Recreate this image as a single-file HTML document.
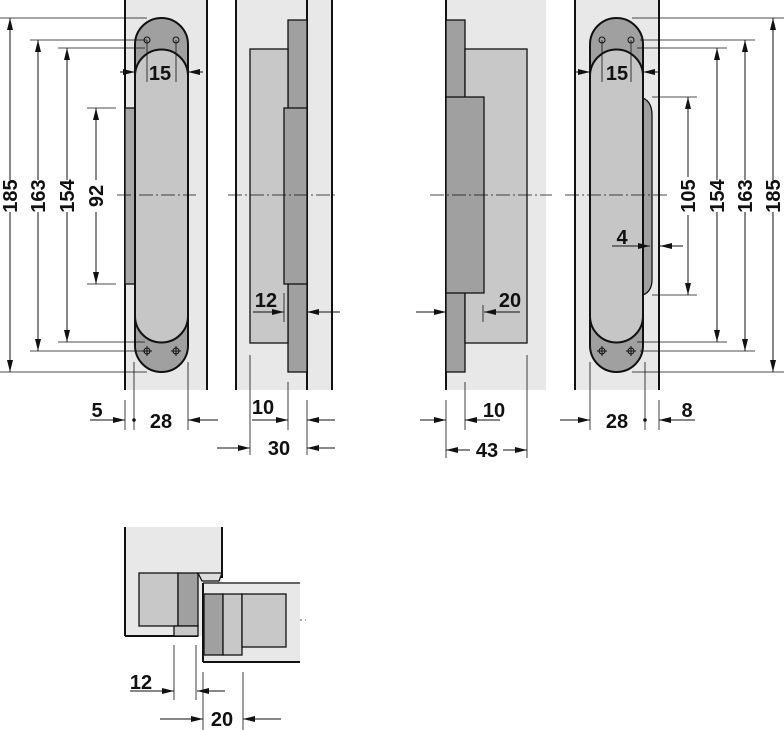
<!DOCTYPE html>
<html><head><meta charset="utf-8"><style>html,body{margin:0;padding:0;background:#fff}svg{display:block}text{font-family:"Liberation Sans",sans-serif;font-weight:bold;font-size:20px;fill:#111}</style></head><body>
<svg width="784" height="730" viewBox="0 0 784 730" xmlns="http://www.w3.org/2000/svg">
<defs>
<marker id="a" viewBox="0 0 12 6" refX="12" refY="3" markerWidth="13" markerHeight="6" orient="auto" markerUnits="userSpaceOnUse"><path d="M0,0L12,3L0,6z" fill="#111"/></marker>
</defs>
<g stroke="#111" stroke-width="1.3">
<rect x="125" y="0" width="82" height="390" fill="#e8e8e8" stroke="none"/>
<rect x="236" y="0" width="96" height="390" fill="#e8e8e8" stroke="none"/>
<rect x="446" y="0" width="100" height="390" fill="#e8e8e8" stroke="none"/>
<rect x="575" y="0" width="84" height="390" fill="#e8e8e8" stroke="none"/>
<line x1="125" y1="0" x2="125" y2="390" stroke-width="2"/>
<line x1="207" y1="0" x2="207" y2="390" stroke-width="2"/>
<rect x="125" y="108" width="10" height="176" fill="#a8a8a8"/>
<rect x="135" y="18" width="53" height="354" rx="26.5" fill="#a0a0a0" stroke-width="2"/>
<path d="M135,76 A26.5,26.5 0 0 1 188,76 V316 A26.5,26.5 0 0 1 135,316 Z" fill="#c6c6c6" stroke-width="2"/>
<line x1="236" y1="0" x2="236" y2="390" stroke-width="2"/>
<line x1="307" y1="0" x2="307" y2="390" stroke-width="2"/>
<line x1="332" y1="0" x2="332" y2="390" stroke-width="2"/>
<rect x="288" y="20" width="19" height="352" fill="#a0a0a0"/>
<rect x="250" y="49" width="38" height="294" fill="#c8c8c8"/>
<rect x="284" y="108" width="23" height="176" fill="#a0a0a0"/>
<line x1="446" y1="0" x2="446" y2="390" stroke-width="2"/>
<rect x="446" y="20" width="19" height="352" fill="#a0a0a0"/>
<rect x="465" y="49" width="62" height="294" fill="#c8c8c8"/>
<rect x="446" y="97" width="38" height="196" fill="#a0a0a0"/>
<line x1="575" y1="0" x2="575" y2="390" stroke-width="2"/>
<line x1="659" y1="0" x2="659" y2="390" stroke-width="2"/>
<path d="M640,97 Q652,100 652,115 V280 Q652,293 640,296 Z" fill="#a0a0a0"/>
<rect x="590" y="18" width="53" height="354" rx="26.5" fill="#a0a0a0" stroke-width="2"/>
<path d="M590,76 A26.5,26.5 0 0 1 643,76 V316 A26.5,26.5 0 0 1 590,316 Z" fill="#c6c6c6" stroke-width="2"/>
</g>
<g fill="none" stroke="#111" stroke-width="1">
<circle cx="147" cy="40" r="3"/><circle cx="176" cy="40" r="3"/><circle cx="147" cy="351" r="3"/><circle cx="176" cy="351" r="3"/>
<circle cx="602" cy="40" r="3"/><circle cx="631" cy="40" r="3"/><circle cx="602" cy="351" r="3"/><circle cx="631" cy="351" r="3"/>
<path d="M142,351h10M171,351h10M597,351h10M626,351h10M147,346v10M176,346v10M602,346v10M631,346v10"/>
</g>
<g stroke="#111" stroke-width="0.8" stroke-dasharray="14,3,2,3">
<line x1="117" y1="195" x2="196" y2="195"/><line x1="228" y1="195" x2="335" y2="195"/>
<line x1="430" y1="195" x2="552" y2="195"/><line x1="565" y1="195" x2="668" y2="195"/>
<line x1="133" y1="600" x2="200" y2="600"/><line x1="200" y1="620" x2="306" y2="620"/>
</g>
<g stroke="#111" stroke-width="0.8">
<line x1="0" y1="18" x2="147" y2="18"/><line x1="0" y1="372" x2="147" y2="372"/>
<line x1="30" y1="40" x2="147" y2="40"/><line x1="30" y1="351" x2="147" y2="351"/>
<line x1="58" y1="48" x2="145" y2="48"/><line x1="58" y1="342" x2="145" y2="342"/>
<line x1="87" y1="108" x2="116" y2="108"/><line x1="87" y1="284" x2="116" y2="284"/>
<line x1="147" y1="40" x2="147" y2="82"/><line x1="176" y1="40" x2="176" y2="82"/>
<line x1="125" y1="400" x2="125" y2="430"/><line x1="134" y1="362" x2="134" y2="430"/><line x1="188" y1="362" x2="188" y2="430"/>
<line x1="284" y1="293" x2="284" y2="322"/>
<line x1="250" y1="355" x2="250" y2="455"/><line x1="288" y1="382" x2="288" y2="430"/><line x1="307" y1="400" x2="307" y2="455"/>
<line x1="483" y1="305" x2="483" y2="322"/>
<line x1="465" y1="382" x2="465" y2="430"/><line x1="446" y1="400" x2="446" y2="458"/><line x1="527" y1="355" x2="527" y2="458"/>
<line x1="632" y1="18" x2="784" y2="18"/><line x1="632" y1="372" x2="784" y2="372"/>
<line x1="640" y1="40" x2="755" y2="40"/><line x1="640" y1="351" x2="755" y2="351"/>
<line x1="637" y1="48" x2="727" y2="48"/><line x1="637" y1="342" x2="727" y2="342"/>
<line x1="652" y1="97" x2="697" y2="97"/><line x1="652" y1="295" x2="697" y2="295"/>
<line x1="602" y1="40" x2="602" y2="82"/><line x1="631" y1="40" x2="631" y2="82"/>
<line x1="590" y1="362" x2="590" y2="430"/><line x1="645" y1="362" x2="645" y2="430"/><line x1="659" y1="400" x2="659" y2="430"/>
<line x1="174" y1="645" x2="174" y2="700"/><line x1="196" y1="645" x2="196" y2="700"/>
<line x1="203" y1="672" x2="203" y2="730"/><line x1="243" y1="672" x2="243" y2="730"/>
</g>
<g stroke="#111" stroke-width="1" marker-end="url(#a)">
<line x1="10" y1="180" x2="10" y2="18"/><line x1="10" y1="212" x2="10" y2="372"/>
<line x1="38" y1="180" x2="38" y2="40"/><line x1="38" y1="212" x2="38" y2="351"/>
<line x1="67" y1="180" x2="67" y2="48"/><line x1="67" y1="212" x2="67" y2="342"/>
<line x1="96" y1="180" x2="96" y2="108"/><line x1="96" y1="212" x2="96" y2="284"/>
<line x1="120" y1="72" x2="135" y2="72"/><line x1="203" y1="72" x2="188" y2="72"/>
<line x1="90" y1="420" x2="125" y2="420"/><line x1="218" y1="420" x2="188" y2="420"/>
<line x1="253" y1="312" x2="284" y2="312"/><line x1="340" y1="312" x2="307" y2="312"/>
<line x1="252" y1="420" x2="288" y2="420"/><line x1="335" y1="420" x2="307" y2="420"/>
<line x1="217" y1="448" x2="250" y2="448"/><line x1="335" y1="448" x2="307" y2="448"/>
<line x1="520" y1="312" x2="484" y2="312"/><line x1="416" y1="312" x2="446" y2="312"/>
<line x1="500" y1="420" x2="465" y2="420"/><line x1="420" y1="420" x2="446" y2="420"/>
<line x1="470" y1="450" x2="446" y2="450"/><line x1="503" y1="450" x2="527" y2="450"/>
<line x1="576" y1="72" x2="590" y2="72"/><line x1="660" y1="72" x2="643" y2="72"/>
<line x1="773" y1="180" x2="773" y2="18"/><line x1="773" y1="212" x2="773" y2="372"/>
<line x1="745" y1="180" x2="745" y2="40"/><line x1="745" y1="212" x2="745" y2="351"/>
<line x1="717" y1="180" x2="717" y2="48"/><line x1="717" y1="212" x2="717" y2="342"/>
<line x1="688" y1="177" x2="688" y2="97"/><line x1="688" y1="215" x2="688" y2="295"/>
<line x1="612" y1="246" x2="650" y2="246"/><line x1="683" y1="246" x2="660" y2="246"/>
<line x1="560" y1="420" x2="590" y2="420"/><line x1="695" y1="420" x2="659" y2="420"/>
<line x1="130" y1="691" x2="174" y2="691"/><line x1="225" y1="691" x2="197" y2="691"/>
<line x1="160" y1="719" x2="203" y2="719"/><line x1="281" y1="719" x2="243" y2="719"/>
</g>
<circle cx="134" cy="420" r="1.8" fill="#111"/><circle cx="645" cy="420" r="1.8" fill="#111"/>
<g stroke="#111" stroke-width="1.3">
<rect x="125" y="527" width="97" height="109" fill="#e8e8e8" stroke="none"/>
<rect x="203" y="582" width="97" height="80" fill="#e8e8e8" stroke="none"/>
<line x1="125" y1="527" x2="125" y2="636" stroke-width="2"/>
<line x1="222" y1="527" x2="222" y2="578" stroke-width="2"/>
<line x1="125" y1="636" x2="198" y2="636" stroke-width="2"/>
<rect x="139" y="573" width="39" height="53" fill="#c8c8c8"/>
<rect x="178" y="573" width="20" height="53" fill="#a0a0a0"/>
<rect x="174" y="626" width="24" height="10" fill="#c8c8c8"/>
<path d="M198,573 L222,573 L219,581 L202,581 Z" fill="#ddd"/>
<line x1="203" y1="583" x2="300" y2="583"/>
<line x1="203" y1="583" x2="203" y2="662" stroke-width="2"/>
<line x1="203" y1="662" x2="300" y2="662" stroke-width="2"/>
<rect x="204" y="594" width="19" height="61" fill="#a0a0a0"/>
<rect x="223" y="594" width="19" height="61" fill="#c8c8c8"/>
<rect x="242" y="594" width="44" height="53" fill="#c8c8c8"/>
</g>
<text x="160" y="80" text-anchor="middle">15</text>
<text x="617" y="80" text-anchor="middle">15</text>
<text transform="translate(17,196) rotate(-90)" text-anchor="middle">185</text>
<text transform="translate(45,196) rotate(-90)" text-anchor="middle">163</text>
<text transform="translate(74,196) rotate(-90)" text-anchor="middle">154</text>
<text transform="translate(103,196) rotate(-90)" text-anchor="middle">92</text>
<text transform="translate(695,196) rotate(-90)" text-anchor="middle">105</text>
<text transform="translate(724,196) rotate(-90)" text-anchor="middle">154</text>
<text transform="translate(752,196) rotate(-90)" text-anchor="middle">163</text>
<text transform="translate(780,196) rotate(-90)" text-anchor="middle">185</text>
<text x="97" y="417" text-anchor="middle">5</text>
<text x="161" y="428" text-anchor="middle">28</text>
<text x="266" y="307" text-anchor="middle">12</text>
<text x="263" y="414" text-anchor="middle">10</text>
<text x="279" y="455" text-anchor="middle">30</text>
<text x="510" y="307" text-anchor="middle">20</text>
<text x="494" y="417" text-anchor="middle">10</text>
<text x="487" y="457" text-anchor="middle">43</text>
<text x="622" y="244" text-anchor="middle">4</text>
<text x="617" y="428" text-anchor="middle">28</text>
<text x="687" y="417" text-anchor="middle">8</text>
<text x="141" y="689" text-anchor="middle">12</text>
<text x="222" y="726" text-anchor="middle">20</text>
</svg>
</body></html>
